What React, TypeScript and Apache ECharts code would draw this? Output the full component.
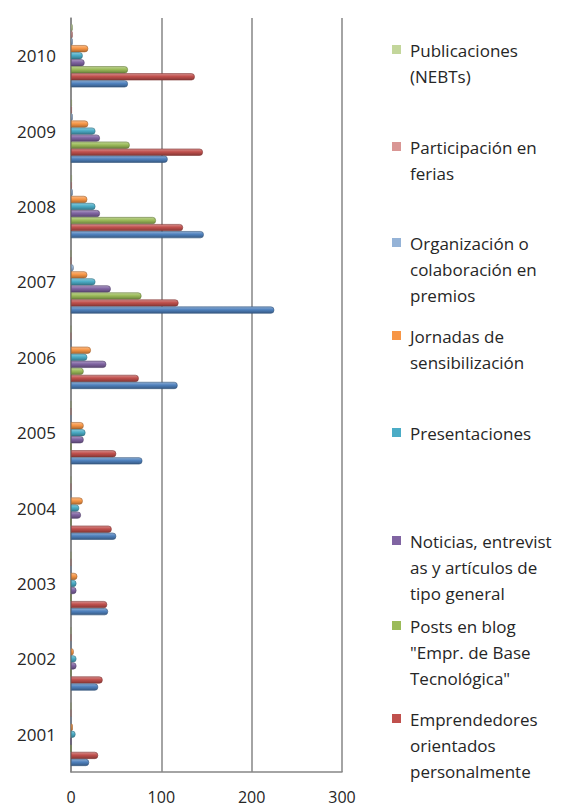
import React, { useEffect, useRef } from "react";
import * as echarts from "echarts";

const years = ["2001", "2002", "2003", "2004", "2005", "2006", "2007", "2008", "2009", "2010"];
const xTicks = [0, 100, 200, 300];

const seriesNames = [
  "Otros",
  "Emprendedores orientados personalmente",
  "Posts en blog \"Empr. de Base Tecnológica\"",
  "Noticias, entrevistas y artículos de tipo general",
  "Presentaciones",
  "Jornadas de sensibilización",
  "Organización o colaboración en premios",
  "Participación en ferias",
  "Publicaciones (NEBTs)",
];

const seriesColors = [
  "#4F81BD",
  "#C0504D",
  "#9BBB59",
  "#8064A2",
  "#4BACC6",
  "#F79646",
  "#95B3D7",
  "#D99694",
  "#C3D69B",
];

const otros = [20, 30, 41, 50, 79, 118, 225, 147, 107, 63];
const emprendedores = [30, 35, 40, 45, 50, 75, 119, 124, 146, 137];
const posts = [0, 0, 0, 0, 0, 14, 78, 94, 65, 63];
const noticias = [0, 6, 6, 11, 14, 39, 44, 32, 32, 15];
const presentaciones = [5, 6, 6, 9, 16, 18, 27, 27, 27, 13];
const jornadas = [2, 3, 7, 13, 14, 22, 18, 18, 19, 19];
const organizacion = [0, 0, 0, 0, 0, 0, 3, 2, 2, 2];
const participacion = [0, 0, 0, 0, 0, 0, 0, 1, 1, 2];
const publicaciones = [0, 0, 0, 0, 0, 0, 0, 1, 1, 2];

const seriesValues = [otros, emprendedores, posts, noticias, presentaciones, jornadas, organizacion, participacion, publicaciones];

// Legend (top to bottom) : series index and wrapped label lines
const legendOrder = [8, 7, 6, 5, 4, 3, 2, 1];
const legendLines = [
  ["Publicaciones", "(NEBTs)"],
  ["Participación en", "ferias"],
  ["Organización o", "colaboración en", "premios"],
  ["Jornadas de", "sensibilización"],
  ["Presentaciones"],
  ["Noticias, entrevist", "as y artículos de", "tipo general"],
  ["Posts en blog", "\"Empr. de Base", "Tecnológica\""],
  ["Emprendedores", "orientados", "personalmente"],
];

// layout
const legendFirstLineY = [50, 147, 243, 336, 433, 541, 626, 719];
const FONT = "'Open Sans', sans-serif";

function shade(hex: string, f: number): string {
  const n = parseInt(hex.slice(1), 16);
  let r = (n >> 16) & 255, g = (n >> 8) & 255, b = n & 255;
  if (f >= 0) {
    r = Math.round(r + (255 - r) * f);
    g = Math.round(g + (255 - g) * f);
    b = Math.round(b + (255 - b) * f);
  } else {
    r = Math.round(r * (1 + f));
    g = Math.round(g * (1 + f));
    b = Math.round(b * (1 + f));
  }
  return "rgb(" + r + "," + g + "," + b + ")";
}

export default function App() {
  const ref = useRef<HTMLDivElement>(null);
  useEffect(() => {
    if (!ref.current) return;
    const chart = echarts.init(ref.current, undefined, { renderer: "svg" });

    // ECharts stacks horizontal bars top-down in series order; reverse so the first series sits at the bottom
    const series = seriesNames
      .map((name, i) => ({
        name,
        type: "bar",
        data: seriesValues[i],
        barCategoryGap: "16%",
        barGap: "0%",
        itemStyle: {
          color: new echarts.graphic.LinearGradient(0, 0, 0, 1, [
            { offset: 0, color: shade(seriesColors[i], 0.35) },
            { offset: 0.45, color: seriesColors[i] },
            { offset: 1, color: shade(seriesColors[i], -0.3) },
          ]),
          borderColor: shade(seriesColors[i], -0.35),
          borderWidth: 0.6,
          borderRadius: [0, 3, 3, 0],
        },
      }))
      .reverse();

    const graphics: any[] = [];
    legendOrder.forEach((si, k) => {
      const y = legendFirstLineY[k];
      graphics.push({
        type: "rect",
        shape: { x: 392, y: y - 5, width: 9, height: 9 },
        style: { fill: seriesColors[si] },
      });
      graphics.push({
        type: "text",
        x: 410,
        y: y - 13,
        style: {
          text: legendLines[k].join("\n"),
          font: "17px " + FONT,
          fill: "#262626",
          lineHeight: 26,
          verticalAlign: "top",
          align: "left",
        },
      });
    });

    chart.setOption({
      animation: false,
      backgroundColor: "#ffffff",
      grid: { left: 71, right: 233, top: 18, bottom: 36, containLabel: false },
      xAxis: {
        type: "value",
        min: xTicks[0],
        max: xTicks[xTicks.length - 1],
        interval: 100,
        axisLine: { show: true, lineStyle: { color: "#868686", width: 1.5 } },
        axisTick: { show: false },
        splitLine: { show: true, lineStyle: { color: "#868686", width: 1.5 } },
        axisLabel: { color: "#262626", fontFamily: FONT, fontSize: 16, margin: 17 },
      },
      yAxis: {
        type: "category",
        data: years,
        axisLine: { show: true, lineStyle: { color: "#868686", width: 1.5 } },
        axisTick: { show: false },
        axisLabel: { color: "#262626", fontFamily: FONT, fontSize: 17, margin: 15 },
      },
      series,
      graphic: graphics,
    });
    return () => chart.dispose();
  }, []);
  return (
    <div
      ref={ref}
      style={{ position: "fixed", left: 0, top: 0, width: 575, height: 808, background: "#fff" }}
    />
  );
}
